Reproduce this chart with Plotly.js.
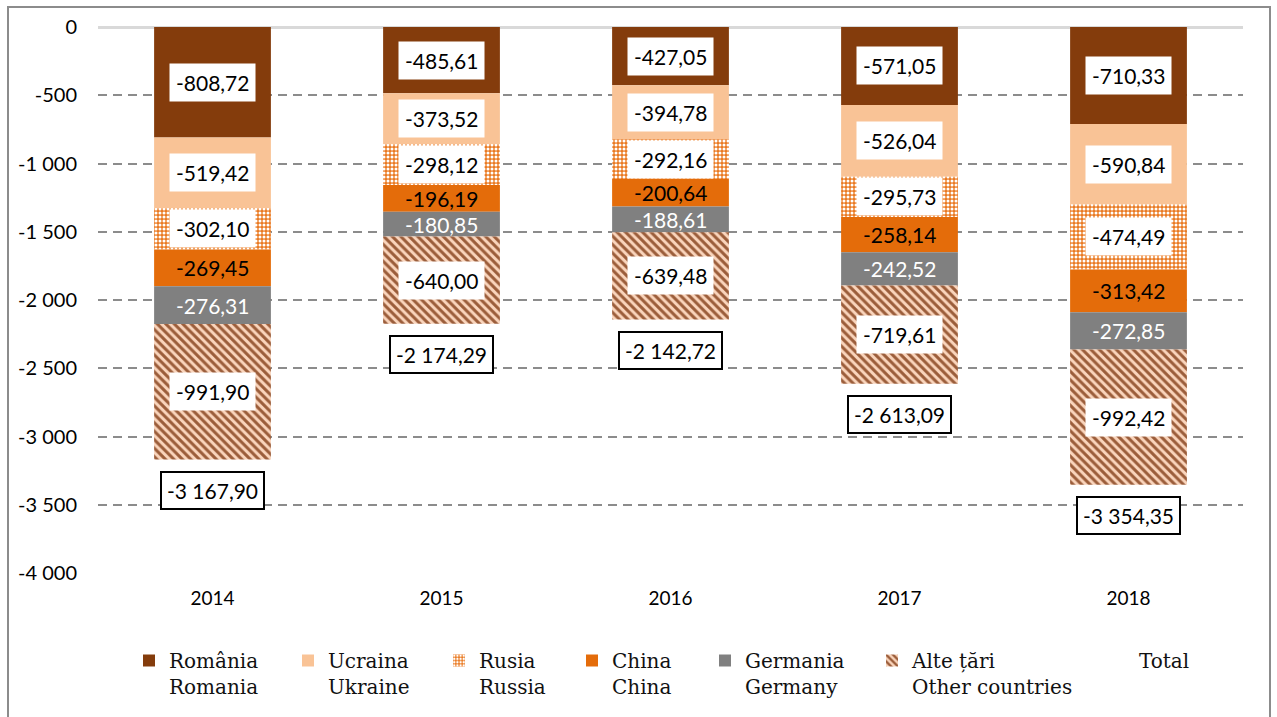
<!DOCTYPE html>
<html>
<head>
<meta charset="utf-8">
<script src="https://cdn.plot.ly/plotly-3.0.1.min.js"></script>
<style>
  html, body { margin: 0; padding: 0; background: #fff; }
  #chart { width: 1277px; height: 717px; }
  #frame { position: absolute; left: 7px; top: 6px; width: 1264px; height: 720px;
           border: 2px solid #8c8c8c; pointer-events: none; box-sizing: border-box; }
</style>
</head>
<body>
<div id="chart"></div>
<div id="frame"></div>
<script>
// ---- data ----
const years = ['2014', '2015', '2016', '2017', '2018'];
const romania = [-808.72, -485.61, -427.05, -571.05, -710.33];
const ukraine = [-519.42, -373.52, -394.78, -526.04, -590.84];
const russia  = [-302.10, -298.12, -292.16, -295.73, -474.49];
const china   = [-269.45, -196.19, -200.64, -258.14, -313.42];
const germany = [-276.31, -180.85, -188.61, -242.52, -272.85];
const others  = [-991.90, -640.00, -639.48, -719.61, -992.42];
const totals  = [-3167.90, -2174.29, -2142.72, -2613.09, -3354.35];
const seriesNames = ['România<br>Romania', 'Ucraina<br>Ukraine', 'Rusia<br>Russia',
                     'China<br>China', 'Germania<br>Germany', 'Alte țări<br>Other countries'];
const totalName = 'Total';
const yTickVals = [0, -500, -1000, -1500, -2000, -2500, -3000, -3500, -4000];
const yTickText = ['0', '-500', '-1 000', '-1 500', '-2 000', '-2 500', '-3 000', '-3 500', '-4 000'];

// ---- styles ----
const series = [romania, ukraine, russia, china, germany, others];
const colors = ['#843c0c', '#f9c396', '#ea7a22', '#e46c0a', '#808080', '#9a5a35'];
const patterns = [
  null, null,
  {shape: '.', fgcolor: '#ffffff', bgcolor: '#ea7a22', size: 4, solidity: 0.45},
  null, null,
  {shape: '\\', fgcolor: '#9b5d3a', bgcolor: '#fad5bc', size: 6, solidity: 0.5}
];
const labelBox = [true, true, true, false, false, true];
const labelColor = ['#000', '#000', '#000', '#000', '#fff', '#000'];
const legendX = [150, 309, 460, 593, 726, 893, 1120];
const labelFont = 'Lato, "Open Sans", sans-serif';
const legendFont = '"DejaVu Serif", "Liberation Serif", serif';

function fmt(v) {
  const neg = v < 0;
  const a = Math.abs(v);
  let intPart = Math.floor(a + 1e-9);
  let dec = Math.round((a - intPart) * 100);
  if (dec === 100) { intPart += 1; dec = 0; }
  const s = String(intPart).replace(/\B(?=(\d{3})+(?!\d))/g, ' ');
  return (neg ? '-' : '') + s + ',' + String(dec).padStart(2, '0');
}

const traces = [];
const annotations = [];
const cum = years.map(() => 0);
series.forEach((vals, i) => {
  const marker = {color: colors[i], line: {width: 0}};
  if (patterns[i]) marker.pattern = patterns[i];
  traces.push({
    type: 'bar', x: years, y: vals, name: seriesNames[i], marker: marker,
    legend: i === 0 ? 'legend' : 'legend' + (i + 1), hoverinfo: 'skip'
  });
  vals.forEach((v, j) => {
    const mid = cum[j] + v / 2;
    cum[j] += v;
    annotations.push({
      x: j, y: mid, xref: 'x', yref: 'y', text: fmt(v), showarrow: false,
      font: {family: labelFont, size: 21, color: labelColor[i]},
      bgcolor: labelBox[i] ? '#ffffff' : 'rgba(0,0,0,0)', borderpad: labelBox[i] ? 6 : 0
    });
  });
});
traces.push({
  type: 'bar', x: years, y: years.map(() => 0), name: totalName,
  marker: {color: 'rgba(0,0,0,0)', line: {width: 0}}, legend: 'legend7', hoverinfo: 'skip'
});
totals.forEach((t, j) => {
  annotations.push({
    x: j, y: t, xref: 'x', yref: 'y', yshift: -31, text: fmt(t), showarrow: false,
    font: {family: labelFont, size: 21, color: '#000'},
    bgcolor: '#ffffff', bordercolor: '#000', borderwidth: 2, borderpad: 5
  });
});

const layout = {
  width: 1277, height: 717,
  margin: {l: 98, r: 34, t: 27, b: 144, autoexpand: false},
  paper_bgcolor: '#ffffff', plot_bgcolor: '#ffffff',
  barmode: 'relative', bargap: 0.49,
  showlegend: true,
  xaxis: {
    type: 'category', showgrid: false, zeroline: false, showline: false,
    range: [-0.5, 4.5],
    ticks: 'outside', ticklen: 8, tickcolor: 'rgba(0,0,0,0)',
    tickfont: {family: labelFont, size: 19, color: '#000'}
  },
  yaxis: {
    range: [-4000, 0], tickvals: yTickVals, ticktext: yTickText,
    showgrid: true, gridcolor: '#8c8c8c', gridwidth: 2, griddash: '9px,6px',
    zeroline: true, zerolinecolor: '#d9d9d9', zerolinewidth: 3, showline: false,
    ticks: 'outside', ticklen: 16, tickcolor: 'rgba(0,0,0,0)',
    tickfont: {family: labelFont, size: 20, color: '#000'}
  },
  annotations: annotations
};
legendX.forEach((lx, k) => {
  const key = k === 0 ? 'legend' : 'legend' + (k + 1);
  layout[key] = {
    xref: 'container', yref: 'container', x: (lx - 21) / 1277, y: 1 - 641 / 717,
    xanchor: 'left', yanchor: 'top', orientation: 'v', valign: 'top',
    bgcolor: 'rgba(0,0,0,0)', borderwidth: 0,
    font: {family: legendFont, size: 20, color: '#111'}
  };
});

Plotly.newPlot('chart', traces, layout, {staticPlot: true, displayModeBar: false});
</script>
</body>
</html>
